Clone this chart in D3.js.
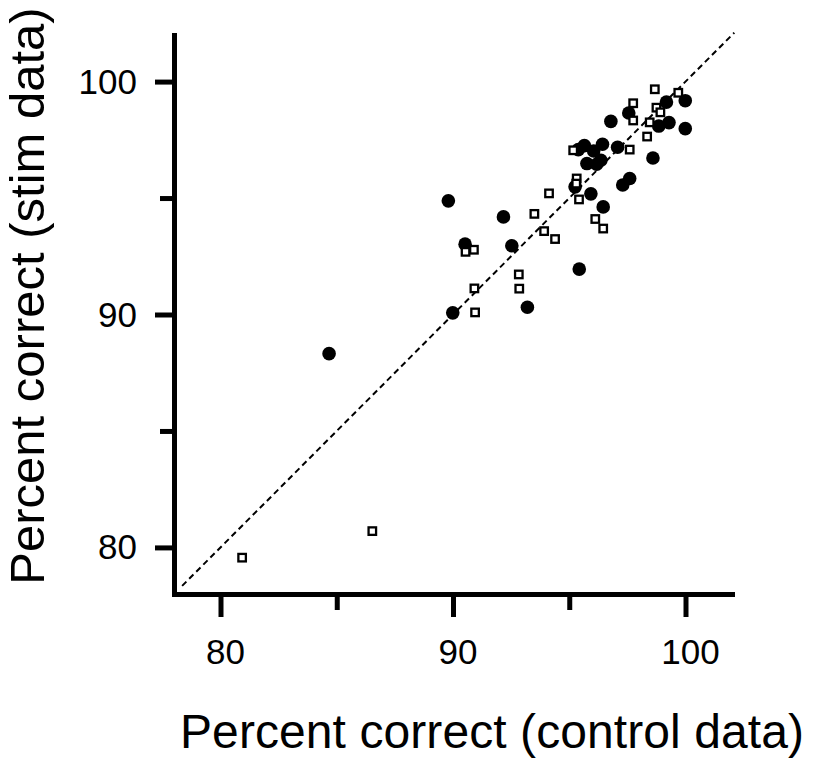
<!DOCTYPE html>
<html>
<head>
<meta charset="utf-8">
<script src="https://cdn.jsdelivr.net/npm/d3@7"></script>
<style>
    html, body { margin: 0; padding: 0; background: #fff; }
    svg { display: block; font-family: Arial, 'Liberation Sans', Helvetica, sans-serif; }
</style>
</head>
<body>
<div id="chart"></div>
<script>
/* === Stim vs control scatter (D3.js v7) === */

// filled circles: [control, stim]
var CIRCLE_CONTROL = [89.80, 90.52, 92.17, 92.53, 89.99, 93.20, 95.43, 84.67, 99.18, 99.99,
    97.56, 96.79, 98.85, 99.29, 99.99, 95.65, 96.43, 97.08, 95.39, 96.05,
    95.76, 96.36, 96.18, 98.60, 97.60, 97.30, 95.25, 95.93, 96.46];
var CIRCLE_STIM = [94.88, 93.02, 94.19, 92.95, 90.07, 90.31, 91.95, 88.32, 99.12, 99.18,
    98.65, 98.29, 98.09, 98.24, 97.98, 97.25, 97.31, 97.18, 97.08, 97.02,
    96.48, 96.62, 96.45, 96.72, 95.84, 95.56, 95.48, 95.18, 94.62];

// open squares: [control, stim]
var SQUARE_CONTROL = [98.68, 99.69, 97.75, 98.75, 98.92, 97.75, 98.46, 98.35, 97.60, 95.17,
    95.32, 95.30, 95.42, 94.13, 93.50, 93.92, 94.39, 96.12, 96.46, 90.54,
    90.90, 92.83, 92.85, 90.92, 90.95, 86.53, 80.93];
var SQUARE_STIM = [99.67, 99.52, 99.07, 98.88, 98.68, 98.33, 98.25, 97.64, 97.08, 97.05,
    95.84, 95.62, 94.94, 95.20, 94.32, 93.58, 93.24, 94.10, 93.69, 92.69,
    92.78, 91.72, 91.11, 91.12, 90.09, 80.70, 79.56];

var MAJOR_TICKS = [80, 90, 100];
var MINOR_TICKS = [85, 95];
var DOMAIN = [78, 102];
var UNITY_LINE = [78.35, 102.1];

var width = 819;
var height = 767;

var svg = d3.select('#chart')
    .append('svg')
    .attr('width', width)
    .attr('height', height);

var x = d3.scaleLinear().domain(DOMAIN).range([174, 732]);
var y = d3.scaleLinear().domain(DOMAIN).range([594, 35]);

// Unity line
svg.append('line')
    .attr('x1', x(UNITY_LINE[0]))
    .attr('y1', y(UNITY_LINE[0]))
    .attr('x2', x(UNITY_LINE[1]))
    .attr('y2', y(UNITY_LINE[1]))
    .attr('stroke', '#000')
    .attr('stroke-width', 2)
    .attr('stroke-dasharray', '6,4');

// Axes
function styleAxis(g) {
    g.select('.domain').attr('stroke-width', 5).attr('stroke-linecap', 'square');
    g.selectAll('.tick line').attr('stroke-width', 5);
    g.selectAll('text').remove();
}

var xAxisG = svg.append('g').attr('transform', 'translate(0,594)');
xAxisG.append('g').call(d3.axisBottom(x).tickValues(MAJOR_TICKS).tickSize(23).tickSizeOuter(0)).call(styleAxis);
xAxisG.append('g').call(d3.axisBottom(x).tickValues(MINOR_TICKS).tickSize(16).tickSizeOuter(0)).call(styleAxis);

var yAxisG = svg.append('g').attr('transform', 'translate(174,0)');
yAxisG.append('g').call(d3.axisLeft(y).tickValues(MAJOR_TICKS).tickSize(19).tickSizeOuter(0)).call(styleAxis);
yAxisG.append('g').call(d3.axisLeft(y).tickValues(MINOR_TICKS).tickSize(14).tickSizeOuter(0)).call(styleAxis);

// Tick labels
svg.append('g').selectAll('text')
    .data(MAJOR_TICKS)
    .join('text')
    .attr('x', function(d) { return x(d) + 5; })
    .attr('y', 664)
    .attr('text-anchor', 'middle')
    .attr('font-size', 35)
    .text(function(d) { return d; });

svg.append('g').selectAll('text')
    .data(MAJOR_TICKS)
    .join('text')
    .attr('x', 137)
    .attr('y', function(d) { return y(d) + 12; })
    .attr('text-anchor', 'end')
    .attr('font-size', 35)
    .text(function(d) { return d; });

// Axis titles
svg.append('text')
    .attr('x', 180)
    .attr('y', 748)
    .attr('font-size', 48)
    .attr('textLength', 624)
    .text('Percent correct (control data)');

svg.append('text')
    .attr('transform', 'translate(44,296) rotate(-90)')
    .attr('text-anchor', 'middle')
    .attr('font-size', 49)
    .text('Percent correct (stim data)');

// Points
svg.append('g').selectAll('circle')
    .data(CIRCLE_CONTROL)
    .join('circle')
    .attr('cx', function(d) { return x(d); })
    .attr('cy', function(d, i) { return y(CIRCLE_STIM[i]); })
    .attr('r', 6.8)
    .attr('fill', '#000');

var SQ = 7.5;
svg.append('g').selectAll('rect')
    .data(SQUARE_CONTROL)
    .join('rect')
    .attr('x', function(d) { return x(d) - SQ / 2; })
    .attr('y', function(d, i) { return y(SQUARE_STIM[i]) - SQ / 2; })
    .attr('width', SQ)
    .attr('height', SQ)
    .attr('fill', '#fff')
    .attr('stroke', '#000')
    .attr('stroke-width', 2.3);
</script>
</body>
</html>
